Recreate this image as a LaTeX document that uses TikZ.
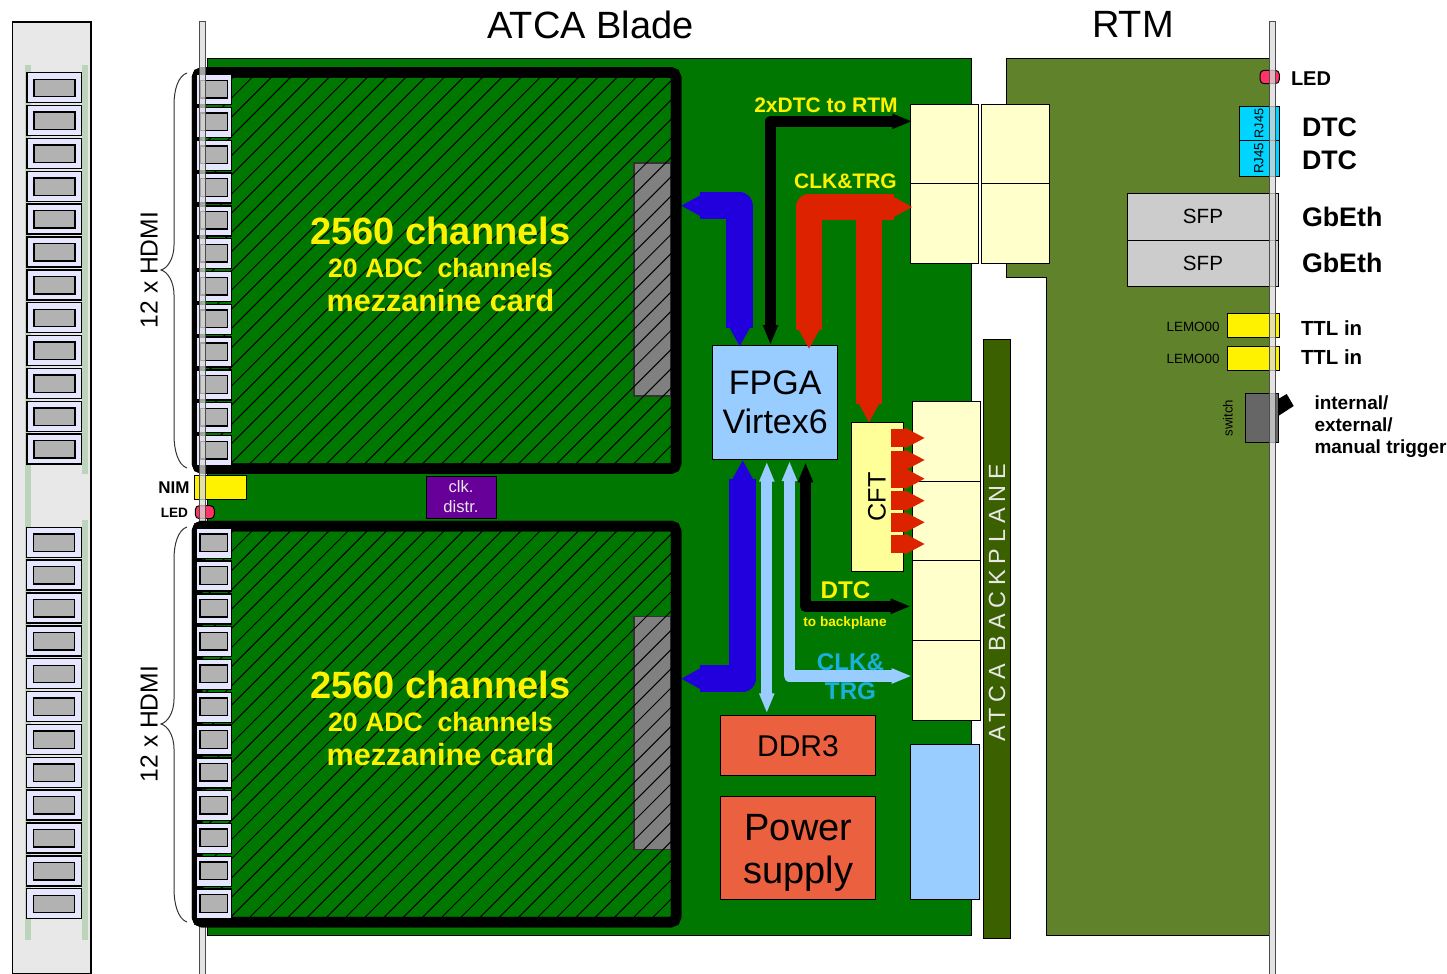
\documentclass[tikz,border=0pt]{standalone}
\usepackage{xcolor}
\usepackage{fontspec}
\setmainfont{Liberation Sans}
\newfontfamily\spacedfont[LetterSpace=25]{Liberation Sans}
\usepackage{tikz}
\usetikzlibrary{arrows.meta}
\definecolor{pcbgreen}{RGB}{0,119,0}
\definecolor{rtmgreen}{RGB}{95,130,42}
\definecolor{planegreen}{RGB}{58,96,0}
\definecolor{panelgray}{RGB}{232,232,232}
\definecolor{stripgray}{RGB}{218,218,218}
\definecolor{stripgreen}{RGB}{188,212,188}
\definecolor{hdmiblue}{RGB}{230,230,255}
\definecolor{hdmigray}{RGB}{178,178,178}
\definecolor{memorange}{RGB}{235,96,62}
\definecolor{creamy}{RGB}{255,255,204}
\definecolor{cftyellow}{RGB}{255,255,153}
\definecolor{fpgablue}{RGB}{153,204,255}
\definecolor{busblue}{RGB}{34,0,221}
\definecolor{busred}{RGB}{221,34,0}
\definecolor{ledred}{RGB}{255,51,102}
\definecolor{rjcyan}{RGB}{0,213,255}
\definecolor{clkcyan}{RGB}{26,176,221}
\definecolor{clkpurple}{RGB}{102,0,153}
\tikzset{
    box/.style={draw, line width=0.5pt, inner sep=0pt, outer sep=0pt, align=center},
    txt/.style={inner sep=0pt, outer sep=0pt, align=center},
    hdmi/.style={box, line width=0.7pt, fill=hdmiblue},
    hdmiin/.style={box, line width=0.7pt, fill=hdmigray},
    mezzboard/.style={box, line width=5.25pt, rounded corners=2.5pt, minimum width=239.5pt, minimum height=198pt, fill=pcbgreen},
    bladestrip/.style={box, line width=0.5pt, draw=black!70, fill=stripgray, fill opacity=0.75, minimum width=3pt, minimum height=476pt},
    bigbus/.style={line width=13.3pt, line join=round, >={Triangle[length=10pt,width=10pt]}},
    smallbus/.style={line width=5.6pt, line join=round, >={Triangle[length=10pt,width=7pt]}},
}
% card with its module, hatching and connectors: #1 name, #2 offset
\newcommand{\mezzcard}[2]{
    \node[mezzboard] (card#1) at (436.5,{270.5+#2}) {};
    \node[box, line width=0.7pt, draw=black!80, fill=black!50, minimum width=18.5pt, minimum height=116.5pt] (module#1) at (652.5,{279.5+#2}) {};
    \begin{scope}
        \clip (card#1.north west) rectangle (card#1.south east);
        \foreach \k in {-4,...,42} {
            \pgfmathsetmacro{\hc}{329.5+#2+19.2*\k}
            \draw[line width=0.5pt] ({\hc-50},{50}) -- ({\hc-1000},{1000});
        }
    \end{scope}
    \draw[line width=5.25pt, rounded corners=2.5pt] (card#1.north west) rectangle (card#1.south east);
    \foreach \i in {0,...,11} {
        \node[hdmi, minimum width=17.5pt, minimum height=15pt] (card#1hdmi\i) at (214.2,{89.7+#2+32.8*\i}) {};
        \node[hdmiin, minimum width=13.8pt, minimum height=8.8pt] (card#1in\i) at (213.8,{89.2+#2+32.8*\i}) {};
    }
}
\begin{document}
\begin{tikzpicture}[x=0.5pt, y=-0.5pt]
    \useasboundingbox (0,0) rectangle (1447,974);

    % crate panel on the left
    \node[box, line width=0.6pt, fill=panelgray, minimum width=39.25pt, minimum height=476pt] (panel) at (51.75,498) {};
    \fill[stripgreen] (25,65) rectangle (31,940);
    \fill[stripgreen] (82,65) rectangle (88,474);
    \fill[stripgreen] (82,520) rectangle (88,940);
    \foreach \i in {0,...,11} {
        \node[hdmi, minimum width=27.3pt, minimum height=15pt] (panelA\i) at (54.3,{87.7+32.85*\i}) {};
        \node[hdmiin, minimum width=20.5pt, minimum height=8.7pt] (panelAin\i) at (54.3,{88+32.85*\i}) {};
        \node[hdmi, minimum width=27.3pt, minimum height=15pt] (panelB\i) at (54,{542.3+32.85*\i}) {};
        \node[hdmiin, minimum width=20.5pt, minimum height=8.7pt] (panelBin\i) at (54,{542.6+32.85*\i}) {};
    }

    % boards
    \node[box, fill=pcbgreen, minimum width=382pt, minimum height=438.5pt] (blade) at (589.5,496.7) {};
    \draw[line width=0.5pt, fill=rtmgreen] (1006.5,59) -- (1269,59) -- (1269,935) -- (1046.5,935) -- (1046.5,277) -- (1006.5,277) -- cycle;

    % front panel parts under the strip
    \node[box, fill=yellow, minimum width=26pt, minimum height=11.8pt] (nim) at (220.3,487.5) {};
    \node[box, fill=ledred, rounded corners=2pt, minimum width=9.5pt, minimum height=6.5pt] (ledA) at (204.8,512.2) {};

    % cards
    \mezzcard{A}{0}
    \node[bladestrip] (stripA) at (202,498) {};
    \mezzcard{B}{453.5}

    \foreach \n/\dy in {A/0,B/454} {
        \node[txt, yellow, font=\fontsize{19pt}{22pt}\selectfont\bfseries] (chan\n) at (440.5,{231+\dy}) {2560 channels};
        \node[txt, yellow, font=\fontsize{13.3pt}{16pt}\selectfont\bfseries] (adc\n) at (440.5,{268+\dy}) {20 ADC~ channels};
        \node[txt, yellow, font=\fontsize{15.3pt}{18pt}\selectfont\bfseries] (mezz\n) at (440.5,{301+\dy}) {mezzanine card};
        \draw[line width=0.5pt, black!80] (187,{73+\dy}) .. controls (178,{76+\dy}) and (174,{90+\dy}) .. (174,{105+\dy})
            -- (174,{245+\dy}) .. controls (174,{258+\dy}) and (168,{268+\dy}) .. (161,{270+\dy})
            .. controls (168,{272+\dy}) and (174,{282+\dy}) .. (174,{295+\dy})
            -- (174,{435+\dy}) .. controls (174,{450+\dy}) and (178,{465+\dy}) .. (187,{468+\dy});
        \node[txt, rotate=90, font=\fontsize{12.3pt}{14pt}\selectfont] (hdmilabel\n) at (149,{270+\dy}) {12 x HDMI};
    }

    % parts on the blade
    \node[box, fill=clkpurple, text=panelgray, minimum width=35pt, minimum height=21pt, font=\fontsize{8.3pt}{10pt}\selectfont] (clk) at (461,497) {clk.\\distr.};
    \node[box, fill=fpgablue, minimum width=62.5pt, minimum height=56.8pt, font=\fontsize{17pt}{19.5pt}\selectfont] (fpga) at (775.2,402.5) {FPGA\\Virtex6};
    \node[box, fill=memorange, minimum width=77.5pt, minimum height=30pt, font=\fontsize{15pt}{18pt}\selectfont] (ddr) at (798,745.7) {DDR3};
    \node[box, fill=memorange, minimum width=77.5pt, minimum height=51.5pt] (power) at (798,848.2) {};
    \node[txt, font=\fontsize{19pt}{21.5pt}\selectfont] (powerlabel) at (798.5,853) {Power\\supply};
    \node[box, fill=fpgablue, minimum width=34.5pt, minimum height=77.5pt] (spare) at (945,822.2) {};
    \node[box, fill=planegreen, minimum width=13.5pt, minimum height=299.5pt] (plane) at (996.5,638.5) {};
    \node[txt, rotate=90, text=panelgray, font=\fontsize{11.7pt}{14pt}\spacedfont] (planelabel) at (997,603) {ATCA BACKPLANE};

    \foreach \n/\x/\y in {A/944.3/144.2, B/944.3/223.7, C/1015/144.2, D/1015/223.7} {
        \node[box, fill=creamy, minimum width=34pt, minimum height=39.7pt] (rtmcon\n) at (\x,\y) {};
    }
    \foreach \n/\y in {A/441.3, B/520.8, C/600.7, D/680.3} {
        \node[box, fill=creamy, minimum width=34pt, minimum height=39.8pt] (planecon\n) at (946,\y) {};
    }
    \node[box, fill=cftyellow, minimum width=25.8pt, minimum height=74.2pt] (cft) at (877.5,496.8) {};
    \node[txt, rotate=90, font=\fontsize{12.6pt}{15pt}\selectfont] (cftlabel) at (877,497) {CFT};

    % buses
    \coordinate (blueA) at (681,205.7);
    \coordinate (blueB) at (681,678.7);
    \coordinate (dtcrtm) at (912.3,121.3);
    \coordinate (clkrtm) at (912.5,207);
    \coordinate (redtee) at (869,207);
    \coordinate (dtcplane) at (910.7,606.3);
    \coordinate (clkplane) at (911.7,676);

    \draw[bigbus, busblue, <->] (blueA) -| (739.7,346.7);
    \draw[bigbus, busblue, <->] (blueB) -| (742.7,460);
    \draw[smallbus, black, <->] (dtcrtm) -| (770.5,345);
    \draw[bigbus, busred, <->] (clkrtm) -| (809,349);
    \draw[bigbus, busred, ->] (redtee) -- (869,0 |- cft.north);
    \draw[smallbus, fpgablue, <->] (766.8,461.7) -- (766.8,713.3);
    \draw[smallbus, fpgablue, <->] (clkplane) -| (789.5,461);
    \draw[smallbus, black, <->] (dtcplane) -| (805.5,462.3);

    \foreach \i/\y in {1/438, 2/460, 3/478.7, 4/500.7, 5/522.3, 6/544} {
        \coordinate (cftout\i) at (891,\y);
        \coordinate (cftin\i) at (925,\y);
        \draw[line width=9.3pt, busred, -{Triangle[length=10pt,width=9.6pt]}] (cftout\i) -- (cftin\i);
    }

    % bus labels
    \node[txt, yellow, font=\fontsize{10.5pt}{12pt}\selectfont\bfseries] (lbldtcrtm) at (826,105) {2xDTC to RTM};
    \node[txt, yellow, font=\fontsize{10.5pt}{12pt}\selectfont\bfseries] (lblclkrtm) at (845.5,181.5) {CLK\&TRG};
    \node[txt, yellow, font=\fontsize{12.1pt}{14pt}\selectfont\bfseries] (lbldtc) at (845.5,590) {DTC};
    \node[txt, yellow, font=\fontsize{6.8pt}{8pt}\selectfont\bfseries] (lblback) at (845,623) {to backplane};
    \node[txt, text=clkcyan, font=\fontsize{12.1pt}{14.5pt}\selectfont\bfseries] (lblclk) at (850.5,676.5) {CLK\&\\TRG};

    % rear module front panel
    \node[box, fill=ledred, rounded corners=2pt, minimum width=9.6pt, minimum height=6.7pt] (ledB) at (1269.7,77) {};
    \node[box, fill=rjcyan, minimum width=20pt, minimum height=17.2pt] (rjA) at (1259.3,123.5) {};
    \node[box, fill=rjcyan, minimum width=20pt, minimum height=17.8pt] (rjB) at (1259.3,158.5) {};
    \node[txt, rotate=90, font=\fontsize{6.3pt}{8pt}\selectfont] (rjlabelA) at (1259,123.5) {RJ45};
    \node[txt, rotate=90, font=\fontsize{6.6pt}{8pt}\selectfont] (rjlabelB) at (1259,158.5) {RJ45};
    \node[box, fill=black!20, minimum width=75.7pt, minimum height=23.3pt, font=\fontsize{10.3pt}{12pt}\selectfont] (sfpA) at (1203,216.7) {SFP};
    \node[box, fill=black!20, minimum width=75.7pt, minimum height=23.3pt, font=\fontsize{10.3pt}{12pt}\selectfont] (sfpB) at (1203,263.4) {SFP};
    \node[box, fill=yellow, minimum width=26.2pt, minimum height=12.2pt] (lemoA) at (1253.5,325.5) {};
    \node[box, fill=yellow, minimum width=26.2pt, minimum height=11.8pt] (lemoB) at (1253.5,358.2) {};
    \node[txt, anchor=east, font=\fontsize{6.7pt}{8pt}\selectfont] (lemolabelA) at (1219.5,326.5) {LEMO00};
    \node[txt, anchor=east, font=\fontsize{6.7pt}{8pt}\selectfont] (lemolabelB) at (1219.5,358.5) {LEMO00};
    \node[box, fill=black!60, minimum width=16.7pt, minimum height=24.8pt] (switch) at (1262,417.8) {};
    \node[txt, rotate=90, font=\fontsize{6.6pt}{8pt}\selectfont] (switchlabel) at (1228,418) {switch};
    \fill[black] (1278.7,398.7) -- (1286.7,394) -- (1293.7,406) -- (1278.7,415.7) -- cycle;
    \node[bladestrip] (stripB) at (1272,498) {};

    % text outside
    \node[txt, font=\fontsize{19pt}{22pt}\selectfont] (titleblade) at (590.5,24.5) {ATCA Blade};
    \node[txt, font=\fontsize{19pt}{22pt}\selectfont] (titlertm) at (1133,24.5) {RTM};
    \node[txt, anchor=east, font=\fontsize{8.5pt}{10pt}\selectfont\bfseries] (lblnim) at (189.5,488) {NIM};
    \node[txt, anchor=east, font=\fontsize{6.8pt}{8pt}\selectfont\bfseries] (lblledA) at (188,513) {LED};
    \node[txt, anchor=west, font=\fontsize{10pt}{12pt}\selectfont\bfseries] (lblledB) at (1291,78.5) {LED};
    \node[txt, anchor=west, font=\fontsize{13.4pt}{15pt}\selectfont\bfseries] (lblrjA) at (1302,127) {DTC};
    \node[txt, anchor=west, font=\fontsize{13.4pt}{15pt}\selectfont\bfseries] (lblrjB) at (1302,160) {DTC};
    \node[txt, anchor=west, font=\fontsize{13.4pt}{15pt}\selectfont\bfseries] (lblsfpA) at (1302,216.5) {GbEth};
    \node[txt, anchor=west, font=\fontsize{13.4pt}{15pt}\selectfont\bfseries] (lblsfpB) at (1302,262.5) {GbEth};
    \node[txt, anchor=west, font=\fontsize{10.2pt}{12pt}\selectfont\bfseries] (lblttlA) at (1301,328) {TTL in};
    \node[txt, anchor=west, font=\fontsize{10.2pt}{12pt}\selectfont\bfseries] (lblttlB) at (1301,357) {TTL in};
    \node[txt, anchor=west, align=left, font=\fontsize{9.5pt}{11pt}\selectfont\bfseries] (lbltrig) at (1314.5,426.5) {internal/\\external/\\manual trigger};
\end{tikzpicture}
\end{document}
